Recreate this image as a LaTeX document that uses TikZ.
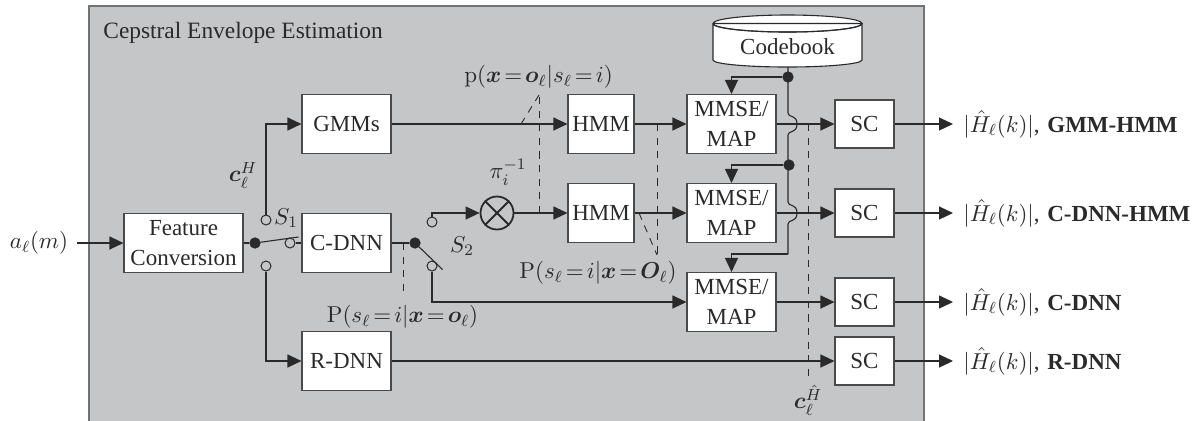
\documentclass[tikz,border=0pt]{standalone}
\usepackage{amsmath,bm}
\usepackage{fix-cm}
\usepackage[no-math]{fontspec}
\setmainfont{Liberation Serif}
\usetikzlibrary{arrows.meta,calc}
\definecolor{panel}{HTML}{C5C6C8}
\definecolor{ink}{HTML}{2A2A2A}
\newcommand{\eqq}{\mkern2.4mu{=}\mkern2.4mu}
\tikzset{
  blk/.style={draw=ink!85,fill=white,line width=0.55pt,inner sep=0pt,align=center,font=\fontsize{11.5}{15}\selectfont,text=ink},
  bigblk/.style={blk,minimum width=44.5pt,minimum height=29.5pt},
  hmmblk/.style={blk,minimum width=33pt,minimum height=29.5pt},
  scblk/.style={blk,minimum width=29.5pt,minimum height=24pt},
  feat/.style={blk,minimum width=59.5pt,minimum height=29.5pt},
  wire/.style={draw=ink,line width=0.55pt},
  arr/.style={wire,-{Triangle[length=7pt,width=6.5pt]}},
  probe/.style={draw=ink,line width=0.45pt,dash pattern=on 3.6pt off 3.2pt},
  jdot/.style={circle,fill=ink,draw=ink,inner sep=0pt,minimum size=5.2pt},
  port/.style={circle,draw=ink,line width=0.5pt,inner sep=0pt,minimum size=5pt},
  lab/.style={inner sep=0pt,text=ink,font=\fontsize{11.5}{14}\selectfont},
  otim/.style={circle,draw=ink,line width=0.9pt,inner sep=0pt,minimum size=16.5pt}
}
\begin{document}
\begin{tikzpicture}[x=0.5pt,y=-0.5pt]
\useasboundingbox (0,0) rectangle (1199,420);
\fill[white] (0,0) rectangle (1199,420);
\draw[fill=panel,draw=black!55,line width=1pt] (89,6) rectangle (924,425);
\node[lab,anchor=west,font=\fontsize{11.7}{14}\selectfont] (title) at (103,33) {Cepstral Envelope Estimation};

% blocks
\node[feat] (fc) at (183.5,243) {Feature\\Conversion};
\node[bigblk] (gmm) at (346.5,124) {GMMs};
\node[bigblk] (cdnn) at (346.5,243) {C-DNN};
\node[bigblk] (rdnn) at (346.5,361) {R-DNN};
\node[hmmblk] (hmm1) at (601,124) {HMM};
\node[hmmblk] (hmm2) at (601,213) {HMM};
\node[bigblk] (ms1) at (731.5,124) {MMSE/\\MAP};
\node[bigblk] (ms2) at (731.5,213) {MMSE/\\MAP};
\node[bigblk] (ms3) at (731.5,302) {MMSE/\\MAP};
\node[scblk] (sc1) at (864.5,124) {SC};
\node[scblk] (sc2) at (864.5,213) {SC};
\node[scblk] (sc3) at (864.5,302) {SC};
\node[scblk] (sc4) at (864.5,361) {SC};

% codebook cylinder
\draw[draw=ink,fill=white,line width=0.55pt] (713,23.5) -- (713,60) arc[start angle=180,end angle=360,x radius=37.25pt,y radius=3.5pt] -- (862,23.5) arc[start angle=0,end angle=360,x radius=37.25pt,y radius=4.25pt] -- cycle;
\draw[draw=ink,line width=0.55pt] (713,23.5) arc[start angle=180,end angle=360,x radius=37.25pt,y radius=4.25pt];
\node[lab] (cb) at (787.5,47) {Codebook};

% input
\node[lab] (in) at (39,243) {$a_\ell(m)$};
\coordinate (inE) at (77,243);
\draw[arr] (inE) -- (fc.west);

% switch S1
\node[jdot] (d1) at (255,243) {};
\node[port] (p1u) at (266,220) {};
\node[port] (p1m) at (290,243) {};
\node[port] (p1d) at (266,266) {};
\coordinate (s1tip) at (298.5,237);
\draw[wire] (fc.east) -- (d1);
\draw[wire] (d1) -- (s1tip);
\draw[wire] (p1m) -- (cdnn.west);
\draw[arr] (p1u.north) |- (gmm.west);
\draw[arr] (p1d.south) |- (rdnn.west);
\node[lab] (s1) at (286,218) {$S_1$};
\node[lab] (ch) at (243,175) {$\bm{c}_\ell^{H}$};

% switch S2
\node[jdot] (d2) at (415,243) {};
\node[port] (p2u) at (432,222) {};
\node[port] (p2d) at (432,266) {};
\coordinate (s2tip) at (442.5,269.5);
\draw[wire] (cdnn.east) -- (d2);
\draw[wire] (d2) -- (s2tip);
\node[lab] (s2) at (462,246) {$S_2$};

% multiplier
\node[otim] (mul) at (497,213) {};
\draw[draw=ink,line width=0.9pt] (mul.north west) -- (mul.south east);
\draw[draw=ink,line width=0.9pt] (mul.north east) -- (mul.south west);
\draw[arr] (p2u.north) |- (mul.west);
\draw[arr] (p2d.south) |- (ms3.west);
\draw[arr] (mul.east) -- (hmm2.west);
\node[lab] (pi) at (508,172) {$\pi_i^{-1}$};

% main paths
\draw[arr] (gmm.east) -- (hmm1.west);
\draw[arr] (hmm1.east) -- (ms1.west);
\draw[arr] (hmm2.east) -- (ms2.west);
\draw[arr] (ms1.east) -- (sc1.west);
\draw[arr] (ms2.east) -- (sc2.west);
\draw[arr] (ms3.east) -- (sc3.west);
\draw[arr] (rdnn.east) -- (sc4.west);

% codebook distribution
\node[jdot] (j1) at (788,77) {};
\node[jdot] (j2) at (789,165) {};
\coordinate (cbS) at (788,67);
\coordinate (v3) at (788,254);
\draw[wire] (cbS) -- (788,113) .. controls (788,118) and (797,114) .. (797,124) .. controls (797,134) and (788,130) .. (788,135)
  -- (788,202) .. controls (788,207) and (797,203) .. (797,213) .. controls (797,223) and (788,219) .. (788,224) -- (v3);
\draw[arr] (j1) -| (ms1.north);
\draw[arr] (j2) -| (ms2.north);
\draw[arr] (v3) -| (ms3.north);

% dashed probes
\coordinate (a1) at (521,124);
\coordinate (a2) at (539,95);
\coordinate (a3) at (539,213);
\draw[probe] (a1) -- (a2);
\draw[probe] (a3) -- (a2);
\node[lab] (pt) at (538.5,77) {$\mathrm{p}(\bm{x}\eqq\bm{o}_\ell|s_\ell\eqq i)$};

\coordinate (b1) at (657,124);
\coordinate (b2) at (657,255);
\coordinate (b3) at (639,213);
\draw[probe] (b1) -- (b2);
\draw[probe] (b3) -- (b2);
\node[lab] (pb) at (598,273) {$\mathrm{P}(s_\ell\eqq i|\bm{x}\eqq\bm{O}_\ell)$};

\coordinate (c1) at (403,243);
\coordinate (c2) at (403,297);
\draw[probe] (c1) -- (c2);
\node[lab] (pc) at (402.5,317) {$\mathrm{P}(s_\ell\eqq i|\bm{x}\eqq\bm{o}_\ell)$};

\coordinate (e1) at (808,124);
\coordinate (e2) at (808,377);
\draw[probe] (e1) -- (e2);
\node[lab] (chh) at (808,400) {$\bm{c}_\ell^{\hat{H}}$};

% outputs
\coordinate (o1) at (953,124);
\coordinate (o2) at (953,213);
\coordinate (o3) at (953,302);
\coordinate (o4) at (953,361);
\draw[arr] (sc1.east) -- (o1);
\draw[arr] (sc2.east) -- (o2);
\draw[arr] (sc3.east) -- (o3);
\draw[arr] (sc4.east) -- (o4);
\node[lab,anchor=west] (l1) at (963,124) {$|\hat{H}_\ell(k)|$,\hspace{1pt} \textbf{GMM-HMM}};
\node[lab,anchor=west] (l2) at (963,213) {$|\hat{H}_\ell(k)|$,\hspace{1pt} \textbf{C-DNN-HMM}};
\node[lab,anchor=west] (l3) at (963,302) {$|\hat{H}_\ell(k)|$,\hspace{1pt} \textbf{C-DNN}};
\node[lab,anchor=west] (l4) at (963,361) {$|\hat{H}_\ell(k)|$,\hspace{1pt} \textbf{R-DNN}};
\end{tikzpicture}
\end{document}
